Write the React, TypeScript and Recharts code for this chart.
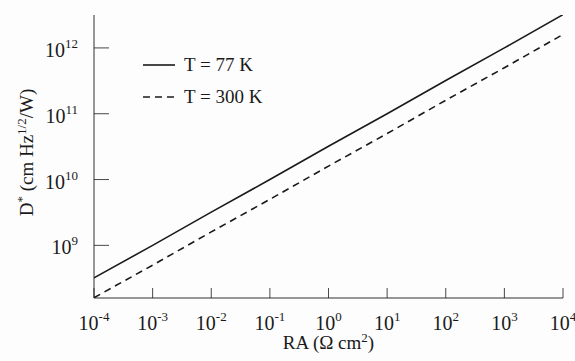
import React from 'react';
import { LineChart, Line, XAxis, YAxis, Legend, Label } from 'recharts';

// RA values (Ω cm²), one per decade
const raValues = [1e-4, 1e-3, 1e-2, 1e-1, 1e0, 1e1, 1e2, 1e3, 1e4];
// D* (cm Hz^1/2 / W)
const dStar77 = [3.2e8, 1.0e9, 3.2e9, 1.0e10, 3.2e10, 1.0e11, 3.2e11, 1.0e12, 3.2e12];
const dStar300 = [1.6e8, 5.0e8, 1.6e9, 5.0e9, 1.6e10, 5.0e10, 1.6e11, 5.0e11, 1.6e12];

const xTickExps = [-4, -3, -2, -1, 0, 1, 2, 3, 4];
const yTickExps = [9, 10, 11, 12];
const seriesNames = ['T = 77 K', 'T = 300 K'];

const data = raValues.map((ra, i) => ({ ra, t77: dStar77[i], t300: dStar300[i] }));

const FONT = '"Liberation Serif", "DejaVu Serif", serif';
const INK = '#1a1a1a';

const BottomTick = ({ x, y, payload }: any) => {
  const exp = Math.round(Math.log10(payload.value));
  return (
    <g>
      <line x1={x} y1={y} x2={x} y2={y - 10} stroke={INK} strokeWidth={0.8} />
      <text x={x} y={y + 32} textAnchor="middle" fontFamily={FONT} fontSize={20} fill={INK}>
        <tspan>10</tspan>
        <tspan dy={-9} fontSize={13}>{exp}</tspan>
      </text>
    </g>
  );
};

const TopTick = ({ x, y }: any) => (
  <line x1={x} y1={y} x2={x} y2={y + 10} stroke={INK} strokeWidth={0.8} />
);

const LeftTick = ({ x, y, payload }: any) => {
  const exp = Math.round(Math.log10(payload.value));
  return (
    <g>
      <line x1={x} y1={y} x2={x + 15} y2={y} stroke={INK} strokeWidth={0.8} />
      <text x={x - 16} y={y + 9} textAnchor="end" fontFamily={FONT} fontSize={20} fill={INK}>
        <tspan>10</tspan>
        <tspan dy={-9} fontSize={13}>{exp}</tspan>
      </text>
    </g>
  );
};

const RightTick = ({ x, y }: any) => (
  <line x1={x} y1={y} x2={x - 15} y2={y} stroke={INK} strokeWidth={0.8} />
);

const XTitle = ({ viewBox }: any) => {
  const cx = viewBox.x + viewBox.width / 2;
  return (
    <text x={cx} y={viewBox.y + 51} textAnchor="middle" fontFamily={FONT} fontSize={19} fill={INK}>
      <tspan>RA (Ω cm</tspan>
      <tspan dy={-7} fontSize={13}>2</tspan>
      <tspan dy={7}>)</tspan>
    </text>
  );
};

const YTitle = ({ viewBox }: any) => {
  const cy = viewBox.y + viewBox.height / 2 - 4;
  const cx = 33;
  return (
    <text
      x={cx}
      y={cy}
      transform={`rotate(-90, ${cx}, ${cy})`}
      textAnchor="middle"
      fontFamily={FONT}
      fontSize={19}
      fill={INK}
    >
      <tspan>D</tspan>
      <tspan dy={-7} fontSize={13}>*</tspan>
      <tspan dy={7}> (cm Hz</tspan>
      <tspan dy={-7} fontSize={13}>1/2</tspan>
      <tspan dy={7}>/W)</tspan>
    </text>
  );
};

const LegendBox = () => (
  <div style={{ fontFamily: FONT, fontSize: 19, color: INK, lineHeight: '32px' }}>
    {seriesNames.map((name, i) => (
      <div key={name} style={{ display: 'flex', alignItems: 'center' }}>
        <svg width={41} height={10}>
          <line
            x1={0}
            y1={5}
            x2={32}
            y2={5}
            stroke={INK}
            strokeWidth={1.6}
            strokeDasharray={i === 1 ? '7 5' : undefined}
          />
        </svg>
        <span>{name}</span>
      </div>
    ))}
  </div>
);

export default function App() {
  const xDomain = [1e-4, 1e4];
  const yDomain = [Math.pow(10, 8.2), Math.pow(10, 12.5)];
  const xTicks = xTickExps.map(e => Math.pow(10, e));
  const yTicks = yTickExps.map(e => Math.pow(10, e));

  return (
    <div style={{ position: 'absolute', left: 0, top: 0, width: 575, height: 361, background: '#fdfdfd' }}>
      <LineChart width={575} height={361} data={data} margin={{ top: 15, right: 12, bottom: 0, left: 0 }}>
        <XAxis
          xAxisId="bottom"
          dataKey="ra"
          type="number"
          scale="log"
          domain={xDomain}
          ticks={xTicks}
          allowDataOverflow
          orientation="bottom"
          height={63}
          tickSize={0}
          tickMargin={0}
          tickLine={false}
          axisLine={{ stroke: INK, strokeWidth: 0.9 }}
          tick={<BottomTick />}
          interval={0}
        >
          <Label content={<XTitle />} />
        </XAxis>
        <XAxis
          xAxisId="top"
          dataKey="ra"
          type="number"
          scale="log"
          domain={xDomain}
          ticks={xTicks}
          allowDataOverflow
          orientation="top"
          height={0}
          tickSize={0}
          tickMargin={0}
          tickLine={false}
          axisLine={{ stroke: INK, strokeWidth: 0.9 }}
          tick={<TopTick />}
          interval={0}
        />
        <YAxis
          yAxisId="left"
          type="number"
          scale="log"
          domain={yDomain}
          ticks={yTicks}
          allowDataOverflow
          orientation="left"
          width={94}
          tickSize={0}
          tickMargin={0}
          tickLine={false}
          axisLine={{ stroke: INK, strokeWidth: 0.9 }}
          tick={<LeftTick />}
          interval={0}
        >
          <Label content={<YTitle />} />
        </YAxis>
        <YAxis
          yAxisId="right"
          type="number"
          scale="log"
          domain={yDomain}
          ticks={yTicks}
          allowDataOverflow
          orientation="right"
          width={0}
          tickSize={0}
          tickMargin={0}
          tickLine={false}
          axisLine={{ stroke: INK, strokeWidth: 0.9 }}
          tick={<RightTick />}
          interval={0}
        />
        <Legend
          content={<LegendBox />}
          layout="vertical"
          verticalAlign="middle"
          align="center"
          wrapperStyle={{ position: 'absolute', left: 143, top: 49, width: 160 }}
        />
        <Line
          xAxisId="bottom"
          yAxisId="left"
          dataKey="t77"
          name={seriesNames[0]}
          stroke={INK}
          strokeWidth={1.6}
          dot={false}
          isAnimationActive={false}
        />
        <Line
          xAxisId="bottom"
          yAxisId="left"
          dataKey="t300"
          name={seriesNames[1]}
          stroke={INK}
          strokeWidth={1.6}
          strokeDasharray="7 5"
          dot={false}
          isAnimationActive={false}
        />
      </LineChart>
    </div>
  );
}
